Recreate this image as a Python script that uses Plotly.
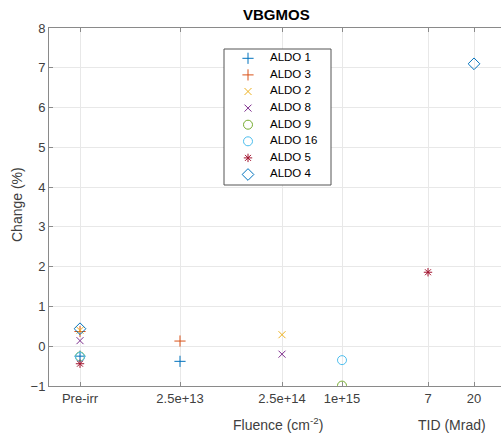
import plotly.graph_objects as go

# Category axis: three fluence steps, pre-irradiation and two TID doses
x_labels = ["Pre-irr", "2.5e+13", "2.5e+14", "1e+15", "7", "20"]
x_pos = [12.4, 13.4, 14.42, 15.02, 15.88, 16.34]

# Series: (category index, change in %)
series_names = ["ALDO 1", "ALDO 3", "ALDO 2", "ALDO 8", "ALDO 9", "ALDO 16", "ALDO 5", "ALDO 4"]
series_cats = [[0, 1], [0, 1], [0, 2], [0, 2], [0, 3], [0, 3], [0, 4], [0, 5]]
series_vals = [
    [-0.25, -0.38],   # ALDO 1
    [0.37, 0.13],     # ALDO 3
    [0.40, 0.29],     # ALDO 2
    [0.14, -0.20],    # ALDO 8
    [-0.26, -0.99],   # ALDO 9
    [-0.27, -0.35],   # ALDO 16
    [-0.44, 1.86],    # ALDO 5
    [0.44, 7.10],     # ALDO 4
]

colors = ["#0072BD", "#D95319", "#EDB120", "#7E2F8E", "#77AC30", "#4DBEEE", "#A2142F", "#0072BD"]
symbols = ["cross-thin-open", "cross-thin-open", "x-thin-open", "x-thin-open",
           "circle-open", "circle-open", "asterisk-open", "diamond-open"]
sizes = [8, 8, 7, 7, 9, 9, 7, 9]

FONT = "Liberation Sans, Arial, Helvetica, sans-serif"
W, H = 501, 436
L, R, T, B = 49, 0, 28, 50

fig = go.Figure()

for name, cats, vals, c, s, sz in zip(series_names, series_cats, series_vals, colors, symbols, sizes):
    fig.add_trace(go.Scatter(
        x=[x_pos[i] for i in cats], y=vals, mode="markers", name=name,
        marker=dict(symbol=s, size=sz, color=c, line=dict(color=c, width=1)),
        showlegend=False,
    ))

# Legend panel drawn on a pixel-based overlay axis
box_l, box_r, box_t, box_b = 224, 331, 49, 185
row0, row_h = 58.3, 16.6
mark_x, text_x = 248, 270
fig.add_trace(go.Scatter(
    x=[box_l, box_r, box_r, box_l, box_l], y=[box_t, box_t, box_b, box_b, box_t],
    mode="lines", fill="toself", fillcolor="white",
    line=dict(color="#555555", width=1), hoverinfo="skip", showlegend=False,
    xaxis="x2", yaxis="y2",
))
for k, (name, c, s, sz) in enumerate(zip(series_names, colors, symbols, sizes)):
    yy = row0 + row_h * k
    fig.add_trace(go.Scatter(
        x=[mark_x], y=[yy], mode="markers",
        marker=dict(symbol=s, size=sz, color=c, line=dict(color=c, width=1)),
        hoverinfo="skip", showlegend=False, xaxis="x2", yaxis="y2",
    ))
    fig.add_trace(go.Scatter(
        x=[text_x], y=[yy], mode="text", text=[name], textposition="middle right",
        textfont=dict(family=FONT, size=11.5, color="#000000"),
        hoverinfo="skip", showlegend=False, xaxis="x2", yaxis="y2",
    ))

axis_common = dict(
    showline=True, linecolor="#8a8a8a", linewidth=1,
    ticks="inside", ticklen=4, tickcolor="#8a8a8a",
    showgrid=True, gridcolor="#e8e8e8", gridwidth=1, zeroline=False,
    tickfont=dict(family=FONT, size=13, color="#404040"),
)

fig.update_layout(
    width=W, height=H,
    margin=dict(l=L, r=R, t=T, b=B),
    paper_bgcolor="white", plot_bgcolor="white",
    xaxis=dict(range=[12.09, 16.61], tickvals=x_pos, ticktext=x_labels,
               mirror="allticks", **axis_common),
    yaxis=dict(range=[-1, 8], dtick=1, tick0=0, mirror=False, **axis_common),
    xaxis2=dict(overlaying="x", range=[L, W - R], visible=False, fixedrange=True),
    yaxis2=dict(overlaying="y", range=[H - B, T], visible=False, fixedrange=True),
    showlegend=False,
    annotations=[
        dict(text="<b>VBGMOS</b>", xref="paper", yref="paper",
             x=(276 - L) / (W - L - R), y=1 + (T - 15) / (H - T - B),
             xanchor="center", yanchor="middle", showarrow=False,
             font=dict(family=FONT, size=15, color="#000000")),
        dict(text="Change (%)", xref="paper", yref="paper",
             x=(17 - L) / (W - L - R), y=(386 - 205) / (H - T - B),
             xanchor="center", yanchor="middle", textangle=-90, showarrow=False,
             font=dict(family=FONT, size=14, color="#404040")),
        dict(text="Fluence (cm<sup>-2</sup>)", xref="paper", yref="paper",
             x=(278 - L) / (W - L - R), y=-(424 - 386) / (H - T - B),
             xanchor="center", yanchor="middle", showarrow=False,
             font=dict(family=FONT, size=14, color="#404040")),
        dict(text="TID (Mrad)", xref="paper", yref="paper",
             x=(452 - L) / (W - L - R), y=-(425 - 386) / (H - T - B),
             xanchor="center", yanchor="middle", showarrow=False,
             font=dict(family=FONT, size=14, color="#404040")),
    ],
)

fig.write_html("out.html")
